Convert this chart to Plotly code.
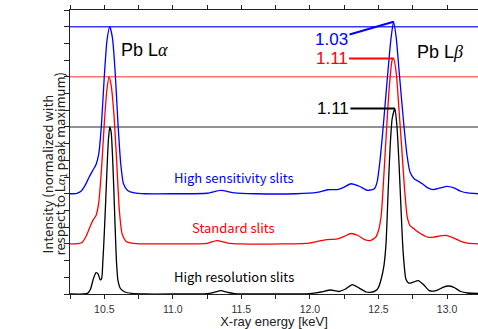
import numpy as np
import plotly.graph_objects as go

# ---------------- data ----------------
series_names = ["High resolution slits", "Standard slits", "High sensitivity slits"]
series_offsets = [0.0, 0.3, 0.6]

hr_energy = [10.25, 10.35, 10.38, 10.40, 10.42, 10.44, 10.455, 10.47, 10.48, 10.49, 10.50, 10.51,
             10.52, 10.53, 10.54, 10.55, 10.56, 10.57, 10.58, 10.59, 10.60, 10.62, 10.65, 10.70,
             10.80, 11.00, 11.25, 11.30, 11.35, 11.40, 11.45, 11.70, 12.00, 12.08, 12.15, 12.21,
             12.26, 12.31, 12.36, 12.41, 12.44, 12.48, 12.50, 12.52, 12.54, 12.555, 12.57, 12.585,
             12.60, 12.62, 12.635, 12.65, 12.665, 12.68, 12.70, 12.72, 12.75, 12.79, 12.83, 12.87,
             12.92, 12.97, 13.01, 13.05, 13.10, 13.15, 13.23]
hr_intensity = [0.0, 0.0, 0.005, 0.03, 0.09, 0.128, 0.12, 0.085, 0.09, 0.2, 0.36, 0.55,
                0.75, 0.92, 1.0, 0.97, 0.83, 0.62, 0.38, 0.18, 0.08, 0.03, 0.012, 0.004,
                0.0, 0.0, 0.002, 0.01, 0.02, 0.01, 0.002, 0.0, 0.002, 0.012, 0.024, 0.015,
                0.03, 0.056, 0.035, 0.012, 0.01, 0.02, 0.04, 0.09, 0.17, 0.3, 0.6, 0.88,
                1.05, 1.11, 1.0, 0.78, 0.5, 0.25, 0.09, 0.065, 0.07, 0.08, 0.055, 0.02,
                0.02, 0.04, 0.048, 0.04, 0.015, 0.006, 0.003]

std_energy = [10.25, 10.31, 10.34, 10.37, 10.40, 10.42, 10.44, 10.46, 10.48, 10.50, 10.52, 10.535,
              10.55, 10.57, 10.59, 10.61, 10.63, 10.66, 10.70, 10.80, 11.00, 11.25, 11.32, 11.40,
              11.50, 11.80, 12.00, 12.11, 12.20, 12.25, 12.30, 12.35, 12.40, 12.44, 12.48, 12.50,
              12.52, 12.54, 12.56, 12.58, 12.60, 12.61, 12.63, 12.65, 12.67, 12.69, 12.71, 12.73,
              12.76, 12.80, 12.86, 12.90, 12.95, 13.00, 13.05, 13.10, 13.15, 13.23]
std_intensity = [0.0, 0.002, 0.01, 0.05, 0.11, 0.145, 0.17, 0.25, 0.45, 0.72, 0.93, 1.0,
                 0.95, 0.78, 0.5, 0.2, 0.06, 0.015, 0.005, 0.0, 0.0, 0.003, 0.02, 0.005,
                 0.0, 0.0, 0.005, 0.024, 0.03, 0.045, 0.062, 0.05, 0.025, 0.02, 0.04, 0.08,
                 0.17, 0.42, 0.7, 0.95, 1.1, 1.11, 1.02, 0.8, 0.57, 0.33, 0.16, 0.11,
                 0.09, 0.065, 0.04, 0.04, 0.048, 0.05, 0.035, 0.015, 0.005, 0.0]

hs_energy = [10.25, 10.30, 10.33, 10.36, 10.39, 10.42, 10.44, 10.46, 10.48, 10.50, 10.52, 10.54,
             10.56, 10.58, 10.60, 10.62, 10.64, 10.67, 10.72, 10.80, 11.00, 11.25, 11.35, 11.45,
             11.60, 11.90, 12.05, 12.13, 12.20, 12.25, 12.30, 12.36, 12.42, 12.47, 12.49, 12.51,
             12.53, 12.55, 12.57, 12.59, 12.61, 12.63, 12.65, 12.67, 12.69, 12.71, 12.73, 12.76,
             12.79, 12.82, 12.86, 12.90, 12.95, 13.00, 13.05, 13.10, 13.15, 13.23]
hs_intensity = [0.0, 0.003, 0.015, 0.05, 0.1, 0.145, 0.175, 0.24, 0.42, 0.7, 0.92, 1.0,
                0.93, 0.72, 0.42, 0.18, 0.06, 0.02, 0.005, 0.0, 0.0, 0.003, 0.02, 0.005,
                0.0, 0.0, 0.008, 0.024, 0.025, 0.04, 0.06, 0.045, 0.02, 0.03, 0.07, 0.19,
                0.36, 0.55, 0.74, 0.92, 1.03, 0.93, 0.74, 0.55, 0.37, 0.22, 0.13, 0.09,
                0.075, 0.06, 0.035, 0.025, 0.035, 0.044, 0.035, 0.015, 0.005, 0.0]

lb_ratio_labels = ["1.11", "1.11", "1.03"]
x_range = [10.25, 13.226]
y_range = [0.0, 1.7]
x_tick_values = [10.5, 11.0, 11.5, 12.0, 12.5, 13.0]
x_tick_labels = ["10.5", "11.0", "11.5", "12.0", "12.5", "13.0"]
x_minor_values = [10.25, 10.75, 11.25, 11.75, 12.25, 12.75]

# ---------------- styles ----------------
line_colors = ["#000000", "#ff0000", "#0000ff"]
ref_colors = ["#6e6e6e", "#ff7373", "#3a3aff"]
gothic = "Noto Sans CJK JP"
sans = "Liberation Sans, Arial"

energies = [hr_energy, std_energy, hs_energy]
intens = [hr_intensity, std_intensity, hs_intensity]

fig = go.Figure()

# reference lines (La peak max level for each series)
for off, col in zip(series_offsets, ref_colors):
    fig.add_trace(go.Scatter(x=x_range, y=[off + 1.0, off + 1.0], mode="lines",
                             line=dict(color=col, width=1.6), hoverinfo="skip", showlegend=False))

for name, e, i, off, col in zip(series_names, energies, intens, series_offsets, line_colors):
    y = np.array(i) + off
    fig.add_trace(go.Scatter(x=e, y=y, mode="lines", name=name,
                             line=dict(color=col, width=1.3, shape="spline", smoothing=0.6),
                             showlegend=False))

# series labels
label_y = [0.102, 0.401, 0.695]
for name, col, ly in zip(series_names, line_colors, label_y):
    fig.add_annotation(x=11.445, y=ly, text=name, showarrow=False,
                       font=dict(family=gothic, size=13, color=col))

# Lb peak ratio annotations
text_dy = [0, 0, 18]
for e, i, off, col, lab, dy in zip(energies, intens, series_offsets, line_colors, lb_ratio_labels, text_dy):
    e = np.array(e); i = np.array(i)
    m = e > 12.4
    k = np.argmax(i[m])
    px = e[m][k]; py = i[m][k] + off
    fig.add_annotation(x=px, y=py, text=lab, showarrow=True, arrowhead=0, arrowwidth=2,
                       arrowcolor=col, ax=-62, ay=dy,
                       font=dict(family=sans, size=17, color=col))

fig.add_annotation(x=10.797, y=1.461, text="Pb L<span style='font-family:Liberation Serif'><i>α</i></span>",
                   showarrow=False, font=dict(family=sans, size=18, color="black"))
fig.add_annotation(x=12.949, y=1.449, text="Pb L<span style='font-family:Liberation Serif'><i>β</i></span>",
                   showarrow=False, font=dict(family=sans, size=18, color="black"))

# y axis title (two lines)
fig.add_annotation(xref="paper", yref="paper", x=(35 - 70) / 408, y=(294 - 174) / 284,
                   text="Intensity (normalized with", textangle=-90, showarrow=False,
                   font=dict(family=gothic, size=13, color="#222"))
fig.add_annotation(xref="paper", yref="paper", x=(48 - 70) / 408, y=(294 - 164) / 284,
                   text="respect to L<span style='font-family:Liberation Serif'><i>α</i></span><sub>1</sub> peak maximum)",
                   textangle=-90, showarrow=False,
                   font=dict(family=gothic, size=13, color="#222"))

fig.update_layout(
    template="none",
    width=478, height=329,
    margin=dict(l=70, r=0, t=10, b=35, autoexpand=False),
    paper_bgcolor="white", plot_bgcolor="white",
    xaxis=dict(range=x_range, tickvals=x_tick_values, ticktext=x_tick_labels, automargin=False,
               ticks="outside", ticklen=4, tickcolor="#222", showline=True, linecolor="#222",
               linewidth=1.3, showgrid=False, zeroline=False, mirror="allticks",
               ticklabelstandoff=1,
               minor=dict(tickvals=x_minor_values, ticks="outside", ticklen=4, tickcolor="#222"),
               tickfont=dict(family=sans, size=10.5, color="#333"),
               title=dict(text="X-ray energy [keV]", standoff=5,
                          font=dict(family=sans, size=13, color="#222"))),
    yaxis=dict(range=y_range, dtick=0.1, tick0=0, ticks="outside", ticklen=5, tickcolor="#222",
               showticklabels=False, showline=True, linecolor="#222", linewidth=1.3, automargin=False,
               showgrid=False, zeroline=False),
)

fig.write_html("out.html", config={"displayModeBar": False},
               post_script="document.body.style.margin='0';document.body.style.overflow='hidden';")
